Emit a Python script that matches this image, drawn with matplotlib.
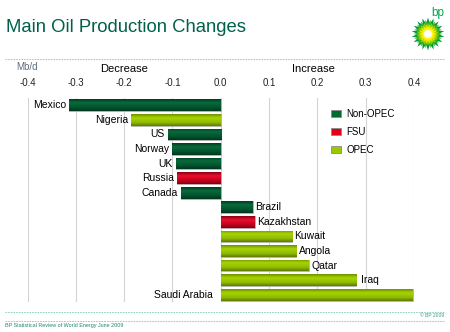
from matplotlib import pyplot as plt
from matplotlib.patches import Patch, Polygon, Circle
from matplotlib.colors import LinearSegmentedColormap
from matplotlib.lines import Line2D
import matplotlib.transforms as mtransforms
import numpy as np

plt.rcParams['font.family'] = ['Liberation Sans', 'DejaVu Sans']

# Change in oil production, 2008 vs 2007 (Mb/d)
countries = ['Mexico', 'Nigeria', 'US', 'Norway', 'UK', 'Russia', 'Canada',
             'Brazil', 'Kazakhstan', 'Kuwait', 'Angola', 'Qatar', 'Iraq', 'Saudi Arabia']
changes = [-0.314, -0.185, -0.110, -0.100, -0.093, -0.091, -0.082,
           0.066, 0.070, 0.147, 0.156, 0.182, 0.280, 0.397]
groups = ['Non-OPEC', 'OPEC', 'Non-OPEC', 'Non-OPEC', 'Non-OPEC', 'FSU', 'Non-OPEC',
          'Non-OPEC', 'FSU', 'OPEC', 'OPEC', 'OPEC', 'OPEC', 'OPEC']
ticks = [-0.4, -0.3, -0.2, -0.1, 0.0, 0.1, 0.2, 0.3, 0.4]

legend_order = ['Non-OPEC', 'FSU', 'OPEC']
flat = {'Non-OPEC': '#006a30', 'FSU': '#e0001b', 'OPEC': '#99c800'}
# top edge, highlight, body, bottom edge for the shaded bars
shades = {'Non-OPEC': ['#003d20', '#0a6a3b', '#005530', '#00361c'],
          'FSU': ['#8a0016', '#e8102c', '#c8001e', '#80000f'],
          'OPEC': ['#6f8f00', '#a6d400', '#90bb00', '#5f7a00']}

green_dark = '#00604a'
dash_col = '#7ccbbd'

fig = plt.figure(figsize=(4.5, 3.32), dpi=100)
fig.patch.set_facecolor('white')

W, H = 450, 332
ax = fig.add_axes([27.6 / W, 30 / H, (414.0 - 27.6) / W, 204 / H])

y = np.arange(len(countries))
bars = ax.barh(y, changes, height=0.8, color=[flat[g] for g in groups],
               edgecolor='#b4b4b4', linewidth=0.6, zorder=3)

# vertical shading on each bar
grad = np.linspace(0, 1, 64).reshape(-1, 1)
for bar, g in zip(bars, groups):
    cmap = LinearSegmentedColormap.from_list(g, list(zip([0, 0.3, 0.7, 1], shades[g])))
    x0, yb = bar.get_x(), bar.get_y()
    w, h = bar.get_width(), bar.get_height()
    im = ax.imshow(grad, cmap=cmap, aspect='auto', zorder=3.5,
                   extent=[x0, x0 + w, yb + h, yb], interpolation='bilinear')
    im.set_clip_path(bar)

# country labels next to bar ends
for yi, v, name in zip(y, changes, countries):
    if v > 0.35:
        off = mtransforms.offset_copy(ax.transData, fig=fig, x=-8, y=0, units='dots')
        ax.text(0, yi, name, transform=off, ha='right', va='center', fontsize=7.5, zorder=5)
    elif v > 0:
        dx = 5 if name == 'Iraq' else 2.5
        off = mtransforms.offset_copy(ax.transData, fig=fig, x=dx, y=0, units='dots')
        ax.text(v, yi, name, transform=off, ha='left', va='center', fontsize=7.5, zorder=5)
    else:
        off = mtransforms.offset_copy(ax.transData, fig=fig, x=-3, y=0, units='dots')
        ax.text(v, yi, name, transform=off, ha='right', va='center', fontsize=7.5, zorder=5)

ax.set_xlim(-0.4, 0.4)
ax.set_ylim(13.5, -0.5)
ax.set_xticks(ticks)
ax.set_xticklabels([f'{t:.1f}' for t in ticks])
ax.set_yticks([])
ax.xaxis.tick_top()
ax.tick_params(axis='x', length=0, pad=7, labelsize=7, labelcolor='#222222')
ax.grid(axis='x', color='#d4d4d4', linewidth=0.8, zorder=0)
for s in ax.spines.values():
    s.set_visible(False)

handles = [Patch(facecolor=flat[g], edgecolor='#8a8a8a', linewidth=0.6, label=g)
           for g in legend_order]
ax.legend(handles=handles, loc='upper left', bbox_to_anchor=(331 / W, 1 - 108.5 / H),
          bbox_transform=fig.transFigure, frameon=False, fontsize=7,
          handlelength=1.05, handleheight=0.75, handletextpad=0.55,
          labelspacing=0.85, borderpad=0, borderaxespad=0)

# headings above the axis
fig.text(124 / W, 1 - 69 / H, 'Decrease', ha='center', va='center', fontsize=8)
fig.text(313 / W, 1 - 69 / H, 'Increase', ha='center', va='center', fontsize=8)
fig.text(27 / W, 1 - 67 / H, 'Mb/d', ha='center', va='center', fontsize=7, color='#5d6c7c')

# title and frame lines
fig.text(6 / W, 1 - 27 / H, 'Main Oil Production Changes', ha='left', va='center',
         fontsize=13.3, color=green_dark)
for yy in [59, 311.5, 320.5]:
    fig.add_artist(Line2D([5 / W, 445 / W], [1 - yy / H, 1 - yy / H], color=dash_col,
                          linewidth=0.6, linestyle=(0, (2, 1.2))))
fig.text(444 / W, 1 - 315.5 / H, '© BP 2009', ha='right', va='center', fontsize=3.6,
         color='#3c9a86')
fig.text(5 / W, 1 - 326 / H, 'BP Statistical Review of World Energy June 2009', ha='left',
         va='center', fontsize=3.9, color='#1f8a70')

# bp helios mark
lax = fig.add_axes([408 / W, 1 - 52 / H, 40 / W, 40 / H])
lax.set_xlim(-20, 20)
lax.set_ylim(-20, 20)
lax.set_aspect('equal')
lax.axis('off')
n = 18
ang = np.linspace(0, 2 * np.pi, 2 * n, endpoint=False) + np.pi / 2
for r_out, r_in, col, rot in [(16.5, 10.5, '#009a3e', 0), (14.5, 9.0, '#3cb521', np.pi / n),
                              (12, 7.5, '#8fd400', 0), (10, 6.5, '#e6e600', np.pi / n)]:
    rr = np.where(np.arange(2 * n) % 2 == 0, r_out, r_in)
    pts = np.column_stack([rr * np.cos(ang + rot), rr * np.sin(ang + rot) - 2])
    lax.add_patch(Polygon(pts, closed=True, facecolor=col, edgecolor='none'))
lax.add_patch(Circle((0, -2), 6.2, facecolor='#fff200', edgecolor='none'))
lax.add_patch(Circle((0, -2), 4.3, facecolor='#fffbd0', edgecolor='none'))
lax.add_patch(Circle((0, -2), 3.0, facecolor='white', edgecolor='none'))
fig.text(438 / W, 1 - 13 / H, 'bp', ha='center', va='center', fontsize=8.5, color='#00a651')

fig.savefig('out.png', dpi=100, facecolor='white')
